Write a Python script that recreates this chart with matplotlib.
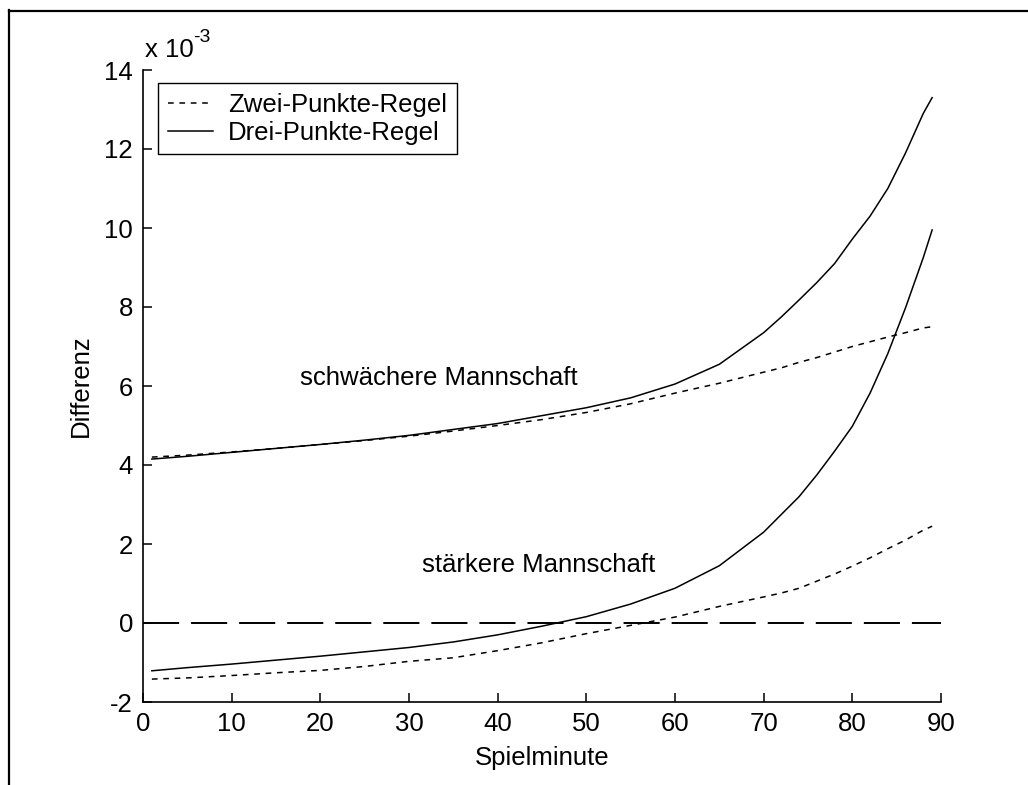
import matplotlib
matplotlib.use("Agg")
import matplotlib.pyplot as plt
from matplotlib.lines import Line2D

plt.rcParams['font.family'] = ['Liberation Sans', 'DejaVu Sans']
plt.rcParams['lines.scale_dashes'] = False
plt.rcParams['axes.unicode_minus'] = False

# Spielminute
minutes = [1, 5, 10, 15, 20, 25, 30, 35, 40, 45, 50, 55, 60, 65, 70,
           72, 74, 76, 78, 80, 82, 84, 86, 88, 89]

# Differenz (in units of 10^-3)
weak_two = [4.20, 4.25, 4.33, 4.42, 4.52, 4.62, 4.73, 4.86, 5.00, 5.15, 5.33, 5.55, 5.82,
            6.07, 6.35, 6.46, 6.60, 6.72, 6.86, 7.00, 7.12, 7.24, 7.35, 7.47, 7.50]
weak_three = [4.15, 4.22, 4.32, 4.42, 4.52, 4.63, 4.75, 4.90, 5.05, 5.25, 5.45, 5.70, 6.05,
              6.55, 7.35, 7.75, 8.18, 8.62, 9.10, 9.72, 10.30, 11.00, 11.90, 12.90, 13.30]
strong_two = [-1.42, -1.39, -1.33, -1.26, -1.20, -1.10, -0.97, -0.88, -0.70, -0.50, -0.27,
              -0.06, 0.15, 0.42, 0.66, 0.76, 0.88, 1.06, 1.24, 1.44, 1.65, 1.88, 2.10, 2.35, 2.45]
strong_three = [-1.21, -1.13, -1.04, -0.94, -0.84, -0.73, -0.62, -0.48, -0.30, -0.08, 0.16,
                0.48, 0.88, 1.45, 2.30, 2.75, 3.20, 3.75, 4.35, 4.98, 5.82, 6.82, 7.98, 9.25, 9.95]

zero_x = [0, 90]
zero_y = [0, 0]

legend_labels = ['Zwei-Punkte-Regel', 'Drei-Punkte-Regel']
xticks = list(range(0, 91, 10))
yticks = list(range(-2, 15, 2))

W, H = 1028, 785
fig = plt.figure(figsize=(W / 100, H / 100), dpi=100)
ax = fig.add_axes([143 / W, 1 - 702 / H, 798 / W, 632 / H])

FS = 18.5
dotted = (0, (4.1, 4.1))
lw = 1.1

l_two, = ax.plot(minutes, weak_two, color='black', lw=lw, linestyle=dotted)
l_three, = ax.plot(minutes, weak_three, color='black', lw=lw, linestyle='-')
ax.plot(minutes, strong_two, color='black', lw=lw, linestyle=dotted)
ax.plot(minutes, strong_three, color='black', lw=lw, linestyle='-')
ax.plot(zero_x, zero_y, color='black', lw=1.4, linestyle=(0, (26, 8.6)))

ax.set_xlim(0, 90)
ax.set_ylim(-2, 14)
ax.set_xticks(xticks)
ax.set_yticks(yticks)
ax.tick_params(direction='in', length=6.5, width=1.1, labelsize=FS, colors='black')
ax.tick_params(axis='x', pad=7.0)
ax.tick_params(axis='y', pad=7.2)
for s in ['top', 'right']:
    ax.spines[s].set_visible(False)
for s in ['left', 'bottom']:
    ax.spines[s].set_linewidth(1.2)

ax.set_xlabel('Spielminute', fontsize=FS)
ax.set_ylabel('Differenz', fontsize=FS)
ax.xaxis.set_label_coords(0.5, -(746 - 702) / 632)
ax.yaxis.set_label_coords((93 - 143) / 798, 0.5)

ax.text(17.7, 6.2, 'schwächere Mannschaft', fontsize=FS, ha='left', va='center')
ax.text(31.5, 1.47, 'stärkere Mannschaft', fontsize=FS, ha='left', va='center')

# axis multiplier "x 10^-3"
fig.text(145 / W, 1 - 57 / H, 'x 10', fontsize=FS, ha='left', va='baseline')
fig.text(193 / W, 1 - 42 / H, '-3', fontsize=14, ha='left', va='baseline')

leg = ax.legend([l_two, l_three], legend_labels, loc='upper left',
                bbox_to_anchor=(158 / W, 1 - 83 / H), bbox_transform=fig.transFigure,
                borderaxespad=0, fontsize=FS, handlelength=1.75, handletextpad=0.6,
                borderpad=0.38, labelspacing=0.15, fancybox=False, framealpha=1,
                edgecolor='black')
leg.get_frame().set_linewidth(1.0)

# figure border (top and left edge)
fig.add_artist(Line2D([8.5 / W, 1.0], [1 - 11 / H, 1 - 11 / H], transform=fig.transFigure,
                      color='black', lw=1.6))
fig.add_artist(Line2D([9 / W, 9 / W], [0, 1 - 10 / H], transform=fig.transFigure,
                      color='black', lw=1.6))

fig.savefig('out.png', dpi=100, facecolor='white')
